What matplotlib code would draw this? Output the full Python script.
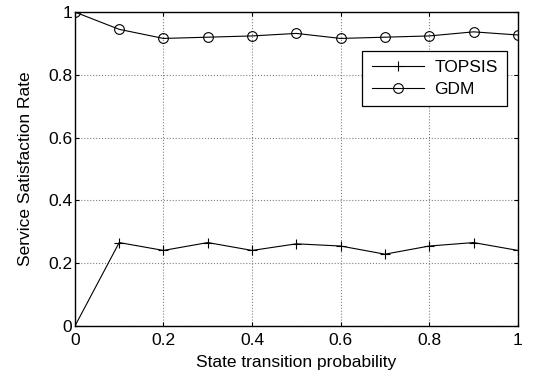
import numpy as np
import matplotlib.pyplot as plt

plt.rcParams['font.family'] = ['Liberation Sans', 'DejaVu Sans']

# 数据
p = [0.0, 0.1, 0.2, 0.3, 0.4, 0.5, 0.6, 0.7, 0.8, 0.9, 1.0]
topsis = [0.0, 0.266, 0.241, 0.266, 0.241, 0.262, 0.255, 0.229, 0.255, 0.266, 0.241]
gdm = [1.0, 0.945, 0.916, 0.920, 0.924, 0.932, 0.916, 0.920, 0.924, 0.937, 0.927]

fs = 12.5

fig = plt.figure(figsize=(5.35, 3.77), dpi=100)
ax = fig.add_axes([0.140, 0.135, 0.828, 0.833])

ax.plot(p, topsis, '-', color='black', linewidth=0.8, marker='+', markersize=7,
        markeredgewidth=0.8, label='TOPSIS')
ax.plot(p, gdm, '-', color='black', linewidth=0.8, marker='o', markersize=7,
        markerfacecolor='none', markeredgewidth=0.8, label='GDM')

ax.set_xlim(0, 1)
ax.set_ylim(0, 1)
ax.set_xticks([0, 0.2, 0.4, 0.6, 0.8, 1])
ax.set_xticklabels(['0', '0.2', '0.4', '0.6', '0.8', '1'])
ax.set_yticks([0, 0.2, 0.4, 0.6, 0.8, 1])
ax.set_yticklabels(['0', '0.2', '0.4', '0.6', '0.8', '1'])
ax.tick_params(direction='in', top=True, right=True, length=3, labelsize=fs)
ax.tick_params(axis='x', pad=5)
ax.tick_params(axis='y', pad=2)
ax.grid(True, linestyle=':', color='gray', linewidth=0.8)
for s in ax.spines.values():
    s.set_linewidth(1.0)

ax.set_xlabel('State transition probability', fontsize=fs, labelpad=5)
ax.set_ylabel('Service Satisfaction Rate', fontsize=fs, labelpad=11)

leg = ax.legend(loc='upper right', bbox_to_anchor=(0.976, 0.877), fontsize=fs,
                fancybox=False, framealpha=1, edgecolor='black', handlelength=3.0,
                borderpad=0.55, labelspacing=0.35, handletextpad=0.6,
                borderaxespad=0)
leg.get_frame().set_linewidth(0.9)

fig.savefig('out.png', dpi=100)
